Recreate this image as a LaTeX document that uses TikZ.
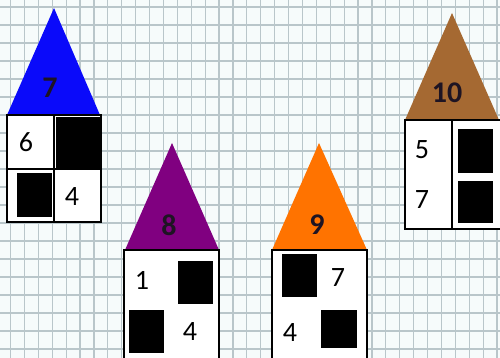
\documentclass[tikz,border=0pt]{standalone}
\usepackage{fontspec}
\setmainfont{Carlito}
\definecolor{gridc}{RGB}{185,198,202}
\definecolor{bgc}{RGB}{246,251,251}
\definecolor{roofblue}{RGB}{10,10,250}
\definecolor{roofpurple}{RGB}{128,0,128}
\definecolor{rooforange}{RGB}{255,115,0}
\definecolor{roofbrown}{RGB}{165,105,50}
\definecolor{roofnum}{RGB}{30,20,35}
\tikzset{
  gridline/.style={draw=gridc,line width=1.2pt},
  body/.style={fill=white,draw=black,line width=1.1pt},
  divider/.style={draw=black,line width=1.1pt},
  blk/.style={fill=black},
  num/.style={inner sep=0pt,font=\fontsize{28}{28}\selectfont,text=black},
  roofnumst/.style={inner sep=0pt,font=\fontsize{30}{30}\selectfont\bfseries,text=roofnum},
}
\begin{document}
\begin{tikzpicture}[x=1pt,y=-1pt]
\useasboundingbox (0,0) rectangle (500,358);
\fill[bgc] (0,0) rectangle (500,358);
\foreach \i in {0,...,35} \draw[gridline] ({10.5+13.9*\i},0) -- ({10.5+13.9*\i},358);
\foreach \j in {0,...,19} \draw[gridline] (0,{7+18*\j}) -- (500,{7+18*\j});

% House 1 (blue)
\fill[roofblue] (7,115) -- (54,8) -- (100,115) -- cycle;
\draw[body] (7,115) rectangle (101,222);
\draw[divider] (54,115) -- (54,222);
\draw[divider] (7,169) -- (101,169);
\fill[blk] (56,117) rectangle (100,168);
\fill[blk] (17,173) rectangle (52,217);
\node[roofnumst] (r1) at (50,88) {7};
\node[num] (a1) at (26,142) {6};
\node[num] (b1) at (72,197) {4};

% House 2 (purple)
\fill[roofpurple] (125,250) -- (172,143) -- (219,250) -- cycle;
\draw[body] (124,250) rectangle (219,362);
\fill[blk] (178,261) rectangle (213,304);
\fill[blk] (129,310) rectangle (164,353);
\node[roofnumst] (r2) at (169,225) {8};
\node[num] (a2) at (142,280) {1};
\node[num] (b2) at (190,332) {4};

% House 3 (orange)
\fill[rooforange] (272,250) -- (319,143) -- (367,250) -- cycle;
\draw[body] (272,250) rectangle (367,362);
\fill[blk] (282,254) rectangle (317,297);
\fill[blk] (321,310) rectangle (357,348);
\node[roofnumst] (r3) at (317,225) {9};
\node[num] (a3) at (338,278) {7};
\node[num] (b3) at (290,333) {4};

% House 4 (brown)
\fill[roofbrown] (405,120) -- (452,13) -- (499,120) -- cycle;
\draw[body] (405,120) rectangle (501,229);
\draw[divider] (452,120) -- (452,229);
\fill[blk] (458,129) rectangle (493,173);
\fill[blk] (458,181) rectangle (493,223);
\node[roofnumst] (r4) at (447,93) {10};
\node[num] (a4) at (422,150) {5};
\node[num] (b4) at (422,200) {7};
\end{tikzpicture}
\end{document}
